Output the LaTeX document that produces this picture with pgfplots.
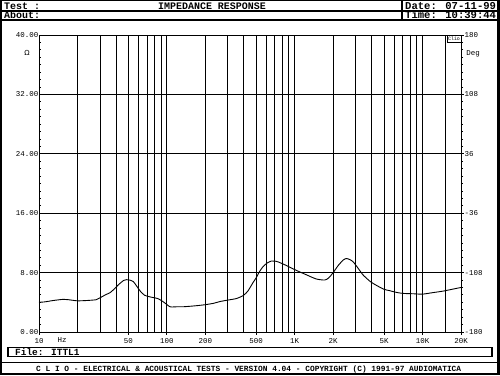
\documentclass[border=0pt]{standalone}
\usepackage{fontspec}
\setmainfont{Liberation Mono}
\newfontfamily\dejavu{DejaVu Sans}
\usepackage{pgfplots}
\pgfplotsset{compat=1.18}
\begin{document}
\begin{tikzpicture}[x=1bp,y=1bp]
\path[use as bounding box] (0,0) rectangle (500,375);
\fill[white] (0,0) rectangle (500,375);
% outer frame
\draw[line width=2bp] (1,1) rectangle (498.5,374.5);
\fill[black] (496.5,0) rectangle (500,375);
% header
\draw[line width=1.2bp] (0,364) -- (500,364);
\draw[line width=1.5bp] (0,355) -- (500,355);
\draw[line width=1.2bp] (402,375) -- (402,355);
\begin{scope}[every node/.style={inner sep=0pt, font=\bfseries\fontsize{10}{10}\selectfont}]
\node[anchor=base west] at (4,365.8) {Test :};
\node[anchor=base] at (212,365.8) {IMPEDANCE RESPONSE};
\node[anchor=base west, font=\bfseries\fontsize{10.6}{10}\selectfont] at (405,365.8) {Date: 07-11-99};
\node[anchor=base west] at (4,356.5) {About:};
\node[anchor=base west, font=\bfseries\fontsize{10.6}{10}\selectfont] at (405,356.5) {Time: 10:39:44};
\end{scope}
% file box and footer
\draw[line width=1.5bp] (8,18.5) rectangle (492,27.5);
\node[anchor=base west, inner sep=0pt, font=\bfseries\fontsize{9.5}{10}\selectfont] at (15,20) {File: ITTL1};
\draw[line width=1.5bp] (0,12.3) -- (500,12.3);
\node[anchor=base, inner sep=0pt, font=\bfseries\fontsize{7.9}{8}\selectfont] at (248.7,4) {C L I O  -  ELECTRICAL \& ACOUSTICAL TESTS  -  VERSION 4.04  -  COPYRIGHT (C) 1991-97 AUDIOMATICA};

\begin{axis}[
  at={(39bp,43bp)}, anchor=south west,
  width=422bp, height=297bp, scale only axis,
  xmode=log, xmin=10, xmax=20000, ymin=0, ymax=40,
  axis line style={black, line width=0.9bp},
  xtick={10,50,100,200,500,1000,2000,5000,10000,20000},
  xticklabels={10,50,100,200,500,1K,2K,5K,10K,20K},
  minor xtick={20,30,40,60,70,80,90,300,400,600,700,800,900,3000,4000,6000,7000,8000,9000,15000},
  xmajorgrids, xminorgrids, ymajorgrids,
  major grid style={black, line width=0.8bp},
  minor grid style={black, line width=0.8bp},
  minor x tick style={draw=none},
  xtick pos=left, ytick pos=left,
  tick align=inside,
  major tick length=2.5bp, minor tick length=2bp,
  xtick style={black, line width=0.8bp, yshift=-2.5bp},
  ytick style={black, line width=0.8bp},
  ytick={0,8,16,24,32,40},
  yticklabels={0.00,8.00,16.00,24.00,32.00,40.00},
  minor y tick num=7,
  ticklabel style={font=\fontsize{7.5}{8}\selectfont, inner sep=1bp},
  yticklabel style={xshift=0.5bp},
  xticklabel style={yshift=-5bp},
  /pgf/number format/assume math mode=true,
  clip=false,
]
\addplot[black, line width=0.9bp, smooth, tension=0.4] coordinates {
(10,4.0) (11,4.05) (12,4.15) (13,4.25) (15.5,4.4) (17,4.35) (20,4.2) (24,4.25)
(28,4.35) (30,4.6) (33,5.0) (36,5.3) (38,5.65) (42,6.4) (46,6.95) (48.4,7.05)
(51,7.0) (54.6,6.8) (58,6.2) (62,5.5) (67,4.95) (75,4.7) (85,4.5) (95,4.0)
(106,3.4) (120,3.4) (134,3.4) (160,3.5) (192,3.64) (230,3.85) (260,4.1)
(300,4.3) (349,4.5) (395,4.9) (430,5.5) (470,6.6) (500,7.3) (525,8.0)
(565,8.8) (610,9.3) (658,9.56) (700,9.55) (745,9.43) (850,9.0) (1030,8.3)
(1200,7.8) (1470,7.15) (1720,7.0) (1850,7.3) (2000,8.0) (2200,9.0) (2400,9.7)
(2540,9.9) (2700,9.75) (2860,9.47) (3100,8.7) (3420,7.7) (3900,6.8) (4340,6.3)
(5000,5.75) (5520,5.57) (6200,5.35) (7000,5.2) (8500,5.15) (10000,5.1)
(12000,5.3) (14400,5.5) (17000,5.75) (20000,6.0)
};
\end{axis}
% Clio box
\draw[line width=0.8bp, fill=white] (447,333) rectangle (461,340);
\node[inner sep=0pt, font=\fontsize{5}{5}\selectfont] at (454,336.5) {Clio};
% unit labels
\node[inner sep=0pt, font=\dejavu\fontsize{7}{8}\selectfont] at (27,322) {Ω};
\node[inner sep=0pt, font=\fontsize{7.5}{8}\selectfont] at (473,321) {Deg};
\node[inner sep=0pt, font=\fontsize{7.5}{8}\selectfont] at (62,35) {Hz};

\begin{axis}[
  at={(39bp,43bp)}, anchor=south west,
  width=422bp, height=297bp, scale only axis,
  xmin=0, xmax=1, ymin=-180, ymax=180,
  axis x line=none, axis y line*=right,
  axis line style={black, line width=0.9bp},
  ytick={-180,-108,-36,36,108,180},
  yticklabels={-180,-108,-36,36,108,180},
  minor y tick num=7,
  tick align=outside,
  major tick length=2.5bp, minor tick length=2bp,
  ytick style={black, line width=0.8bp},
  ticklabel style={font=\fontsize{7.5}{8}\selectfont, inner sep=1bp},
]
\end{axis}
\end{tikzpicture}
\end{document}
